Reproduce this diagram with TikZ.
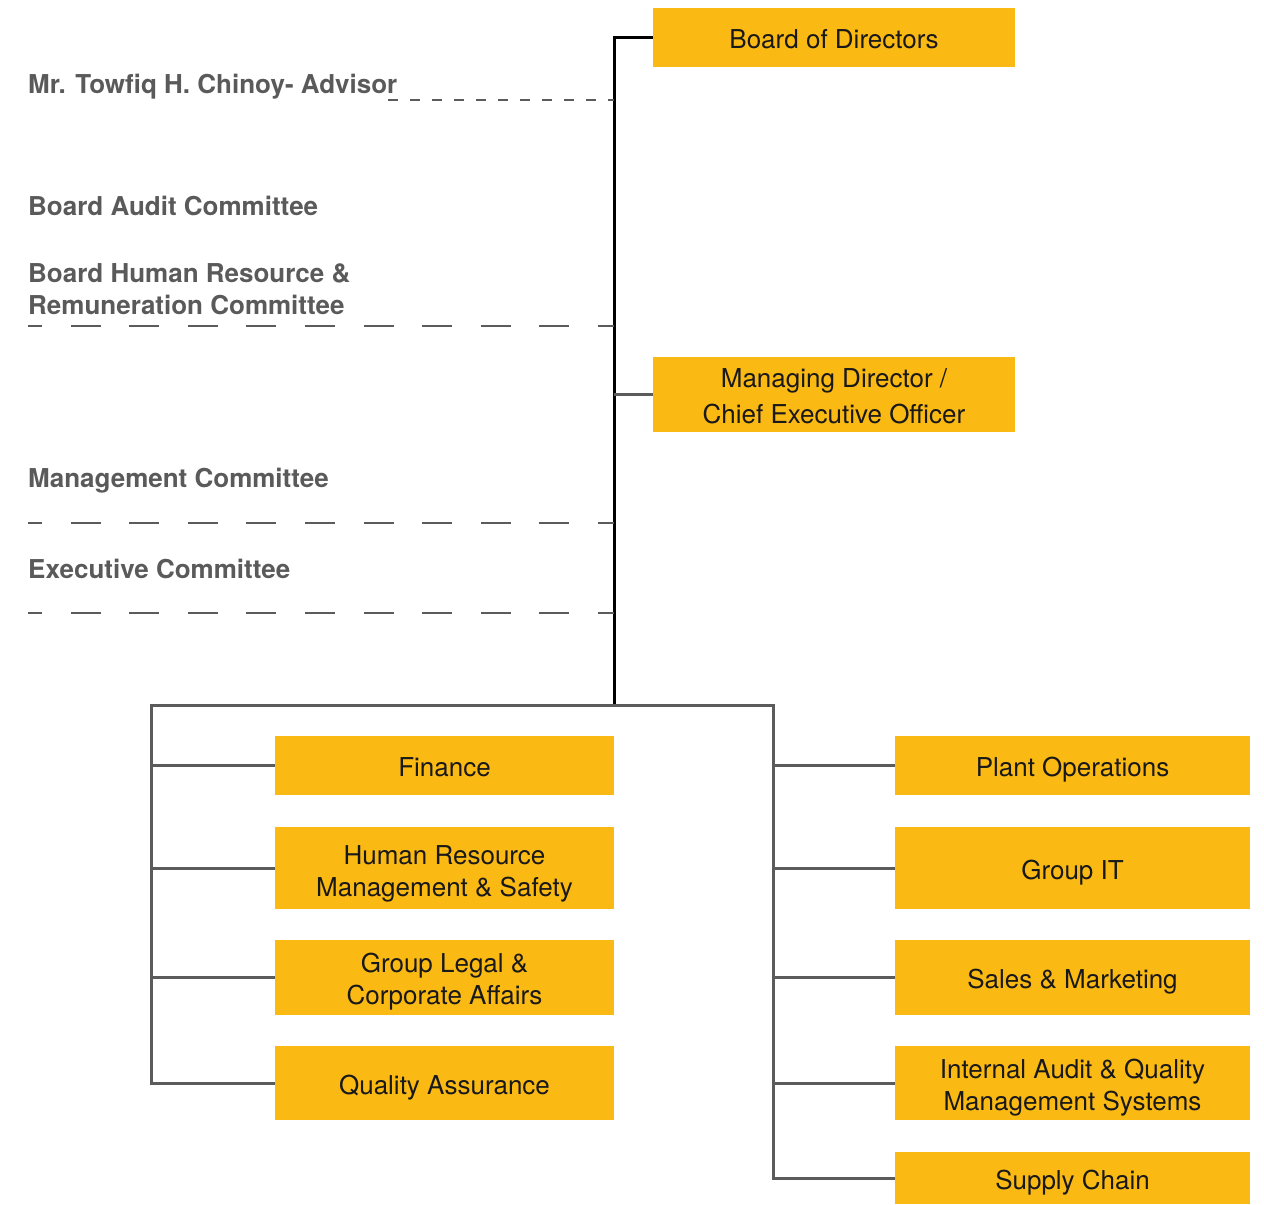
\documentclass[tikz,border=0pt]{standalone}
\usepackage{fontspec}
\setmainfont{TeX Gyre Heros}
\definecolor{boxc}{HTML}{FBB914}
\definecolor{linec}{HTML}{5B5B5B}
\definecolor{labc}{HTML}{5A5A5A}
\begin{document}
\begin{tikzpicture}[x=1pt,y=-1pt,
 box/.style={fill=boxc, inner sep=0pt, align=center, font=\fontsize{26}{32}\selectfont, text=black!90, text height=22pt, text depth=0pt},
 two/.style={text height=#1, text depth=0pt},
 lbl/.style={anchor=base west, inner sep=0pt, font=\fontsize{26}{32}\selectfont\bfseries, text=labc},
 conn/.style={draw=linec, line width=3pt},
 spine/.style={draw=black, line width=3pt},
 longdash/.style={draw=linec, line width=2.5pt, dash pattern=on 30pt off 28.6pt, dash phase=16pt},
 shortdash/.style={draw=linec, line width=2pt, dash pattern=on 10pt off 12pt}]
\useasboundingbox (0,0) rectangle (1264,1205);
% top boxes
\node[box, minimum width=362pt, minimum height=59pt] (bod) at (834,37.5) {Board of Directors};
\node[box, two=57pt, minimum width=362pt, minimum height=75pt] (md) at (834,394.5) {Managing Director /\\[4pt]Chief Executive Officer};
% left boxes
\node[box, minimum width=339pt, minimum height=59pt] (fin) at (444.5,765.5) {Finance};
\node[box, two=56pt, minimum width=339pt, minimum height=82pt] (hr) at (444.5,868) {Human Resource\\Management \& Safety};
\node[box, two=54pt, minimum width=339pt, minimum height=75pt] (legal) at (444.5,977.5) {Group Legal \&\\Corporate Affairs};
\node[box, minimum width=339pt, minimum height=74pt] (qa) at (444.5,1083) {Quality Assurance};
% right boxes
\node[box, minimum width=355pt, minimum height=59pt] (plant) at (1072.5,765.5) {Plant Operations};
\node[box, minimum width=355pt, minimum height=82pt] (it) at (1072.5,868) {Group IT};
\node[box, minimum width=355pt, minimum height=75pt] (sales) at (1072.5,977.5) {Sales \& Marketing};
\node[box, two=54pt, minimum width=355pt, minimum height=74pt] (ia) at (1072.5,1083) {Internal Audit \& Quality\\Management Systems};
\node[box, minimum width=355pt, minimum height=52pt] (sc) at (1072.5,1178) {Supply Chain};
% labels
\node[lbl] (l1) at (28,93) {Mr. Towfiq H. Chinoy- Advisor};
\node[lbl] (l2) at (28,215) {Board Audit Committee};
\node[lbl] (l3a) at (28,282) {Board Human Resource \&};
\node[lbl] (l3b) at (28,314) {Remuneration Committee};
\node[lbl] (l4) at (28,487) {Management Committee};
\node[lbl] (l5) at (28,578) {Executive Committee};
% spine
\coordinate (top) at (614,37.5);
\coordinate (bot) at (614,705);
\coordinate (bl) at (151,705);
\coordinate (br) at (773,705);
\draw[spine] (bod.west) -- (top) -- (bot);
\draw[conn] (md.west) -- (md.west -| top);
% dashed links
\coordinate (adv) at (388,100);
\coordinate (hrc) at (28,326);
\coordinate (mc) at (28,523);
\coordinate (ec) at (28,613);
\draw[shortdash] (adv) -- (adv -| top);
\draw[longdash] (hrc) -- (hrc -| top);
\draw[longdash] (mc) -- (mc -| top);
\draw[longdash] (ec) -- (ec -| top);
% bottom bracket
\draw[conn] (qa.west) -| (bl) -- (br) |- (sc.west);
\foreach \n in {fin,hr,legal}{\draw[conn] (\n.west -| bl) -- (\n.west);}
\foreach \n in {plant,it,sales,ia}{\draw[conn] (\n.west -| br) -- (\n.west);}
\end{tikzpicture}
\end{document}
